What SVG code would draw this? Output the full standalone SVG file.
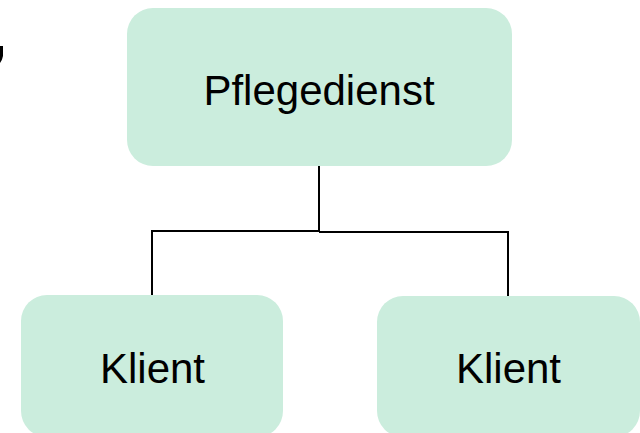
<svg xmlns="http://www.w3.org/2000/svg" width="640" height="433" viewBox="0 0 640 433">
  <style>
    .box { fill: #cbeddd; }
    .label { font-family: "Liberation Sans", Arial, sans-serif; font-size: 42px; fill: #000; text-anchor: middle; }
    .wire { fill: none; stroke: #000; stroke-width: 2; }
  </style>
  <rect width="640" height="433" fill="#ffffff"/>
  <!-- clipped mark at the left edge -->
  <path d="M0,46 L3,46 L3,56 Q2,61 0,63 Z" fill="#000"/>
  <g id="connectors">
    <path class="wire" d="M319,166 V231 H152 V295"/>
    <path class="wire" d="M319,232 H508 V296"/>
  </g>
  <g id="pflegedienst">
    <rect class="box" x="127" y="8" width="385" height="158" rx="26"/>
    <text class="label" x="319" y="105">Pflegedienst</text>
  </g>
  <g id="klient-links">
    <rect class="box" x="21" y="295" width="262" height="142" rx="26"/>
    <text class="label" x="152.5" y="383">Klient</text>
  </g>
  <g id="klient-rechts">
    <rect class="box" x="377" y="296" width="263" height="141" rx="26"/>
    <text class="label" x="508.5" y="383">Klient</text>
  </g>
</svg>
